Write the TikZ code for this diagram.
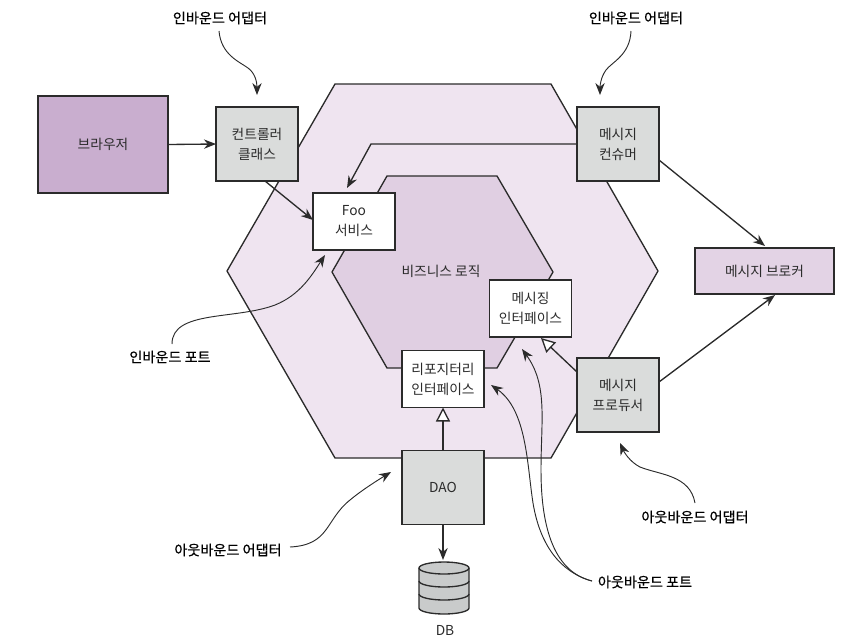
\documentclass[tikz,border=0pt]{standalone}
\usepackage{fontspec}
\setmainfont{Noto Sans CJK KR}
\newfontfamily\captionfont[FakeBold=0.6]{Noto Sans CJK KR}
\usetikzlibrary{arrows.meta}

\definecolor{linecol}{HTML}{2B2B2B}
\definecolor{hexouter}{HTML}{EFE4F0}
\definecolor{hexinner}{HTML}{E0CFE2}
\definecolor{browsercol}{HTML}{C9AECF}
\definecolor{brokercol}{HTML}{E3D3E5}
\definecolor{adaptercol}{HTML}{DADCDB}
\definecolor{dbcol}{HTML}{C9CBCB}

\tikzset{
    box/.style={draw=linecol,line width=1pt,align=center,inner sep=0pt,outer sep=0pt,text=linecol,
        font=\fontsize{10.3}{15}\selectfont},
    adapterbox/.style={box,fill=adaptercol,minimum width=61.5pt,minimum height=55.5pt},
    whitebox/.style={box,fill=white,minimum width=61.5pt,minimum height=42.75pt},
    caption/.style={inner sep=0pt,text=black,font=\fontsize{10.6}{12}\selectfont\captionfont},
    plain/.style={inner sep=0pt,text=linecol,font=\fontsize{10.3}{12}\selectfont},
    flow/.style={draw=linecol,line width=1pt,-{Stealth[length=9pt,width=7pt]}},
    impl/.style={draw=linecol,line width=1pt,-{Triangle[open,fill=white,length=10.5pt,width=10.5pt]}},
    leader/.style={draw=linecol,line width=0.7pt,-{Stealth[length=9pt,width=7pt]}},
    dbline/.style={draw=linecol,line width=1pt},
}

\begin{document}
\begin{tikzpicture}[x=0.75pt,y=-0.75pt]
    \useasboundingbox (0,0) rectangle (863,640);

    % hexagons
    \draw[fill=hexouter,draw=linecol,line width=1pt,line join=round]
        (335,84) -- (551,84) -- (658,271) -- (551,458) -- (335,458) -- (227,271) -- cycle;
    \draw[fill=hexinner,draw=linecol,line width=1pt,line join=round]
        (387,176) -- (497,176) -- (553,272) -- (497,368) -- (387,368) -- (332,272) -- cycle;
    \node[plain] (logic) at (441,271){비즈니스 로직};

    % boxes
    \node[box,fill=browsercol,minimum width=97.5pt,minimum height=72.75pt] (browser) at (103,144.5){브라우저};
    \node[adapterbox] (ctrl) at (257,144){컨트롤러\\클래스};
    \node[adapterbox] (consumer) at (618,144){메시지\\컨슈머};
    \node[adapterbox] (producer) at (618,395){메시지\\프로듀서};
    \node[adapterbox] (dao) at (443,487.5){DAO};
    \node[whitebox] (foo) at (354,221.5){Foo\\서비스};
    \node[whitebox] (msgif) at (530.5,308.5){메시징\\인터페이스};
    \node[whitebox] (repoif) at (443,379){리포지터리\\인터페이스};
    \node[box,fill=brokercol,minimum width=104.25pt,minimum height=34.5pt] (broker) at (764.5,271){메시지 브로커};

    % database
    \draw[fill=dbcol,dbline]
        (419,568) -- (419,608) arc[start angle=180,end angle=0,x radius=25,y radius=6]
        -- (469,568) arc[start angle=0,end angle=-180,x radius=25,y radius=6];
    \draw[dbline] (419,568) arc[start angle=180,end angle=0,x radius=25,y radius=6];
    \draw[dbline] (419,581) arc[start angle=180,end angle=0,x radius=25,y radius=6];
    \draw[dbline] (419,594) arc[start angle=180,end angle=0,x radius=25,y radius=6];
    \coordinate (dbtop) at (443,560);
    \node[plain] (db) at (445,630){DB};

    % connectors
    \coordinate (bend) at (371,144);
    \coordinate (footip) at (347,188);
    \coordinate (consumerout) at (659,160);
    \coordinate (brokerin) at (765,246);
    \coordinate (producerout) at (659,382);
    \coordinate (brokerin2) at (775,295);
    \coordinate (ctrlout) at (265,181);
    \coordinate (fooin) at (313,220);
    \coordinate (producerin) at (577,372);
    \coordinate (msgifout) at (541,338);
    \draw[flow] (browser.east) -- (ctrl.west);
    \draw[flow] (consumer.west) -- (bend) -- (footip);
    \draw[flow] (consumerout) -- (brokerin);
    \draw[flow] (producerout) -- (brokerin2);
    \draw[flow] (ctrlout) -- (fooin);
    \draw[impl] (producerin) -- (msgifout);
    \draw[impl] (dao.north) -- (repoif.south);
    \draw[flow] (dao.south) -- (dbtop);

    % captions
    \node[caption] (inadapterl) at (220,18){인바운드 어댑터};
    \node[caption] (inadapterr) at (636,18){인바운드 어댑터};
    \node[caption] (inport) at (170,357){인바운드 포트};
    \node[caption] (outadapterl) at (228,550){아웃바운드 어댑터};
    \node[caption] (outadapterr) at (695,517){아웃바운드 어댑터};
    \node[caption] (outport) at (645,582){아웃바운드 포트};

    % leader lines
    \coordinate (tipa) at (257,95);
    \coordinate (tipb) at (600,95);
    \coordinate (tipc) at (325,255);
    \coordinate (tipd) at (391,472);
    \coordinate (tipe) at (620,443);
    \coordinate (tipf) at (491,385);
    \coordinate (tipg) at (522,349);
    \coordinate (portjoin) at (592,581);
    \draw[leader] (219,31) .. controls (221,55) and (240,62) .. (248,68) .. controls (255,73) and (257,82) .. (tipa);
    \draw[leader] (631,31) .. controls (630,55) and (612,62) .. (606,70) .. controls (601,77) and (600,85) .. (tipb);
    \draw[leader] (172,344) .. controls (172,310) and (235,320) .. (275,305) .. controls (300,295) and (312,275) .. (tipc);
    \draw[leader] (290,547) .. controls (330,545) and (325,520) .. (350,500) .. controls (362,490) and (378,480) .. (tipd);
    \draw[leader] (695,503) .. controls (690,475) and (660,475) .. (640,467) .. controls (630,462) and (624,452) .. (tipe);
    \draw[leader] (portjoin) .. controls (560,572) and (540,545) .. (533,503) .. controls (527,465) and (527,410) .. (tipf);
    \draw[leader] (portjoin) .. controls (555,572) and (541,530) .. (541,470) .. controls (541,420) and (548,385) .. (tipg);
\end{tikzpicture}
\end{document}
